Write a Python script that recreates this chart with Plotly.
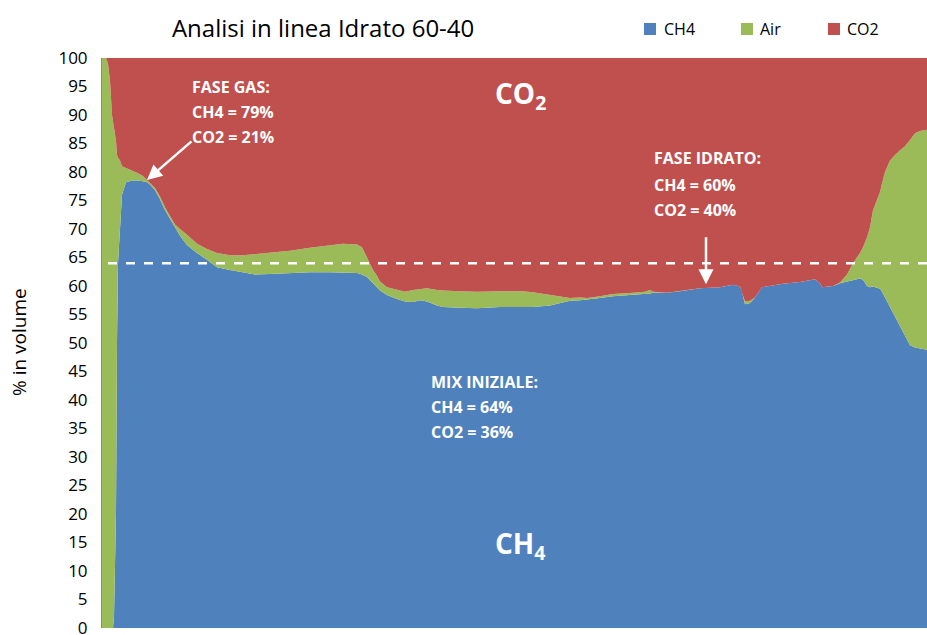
import plotly.graph_objects as go

# sample index (position along the run) -- no x labels in the original
sample = [0, 4, 6, 8, 10, 11, 12, 14, 15, 16, 18, 20, 24, 30, 36, 41, 44, 48, 53, 58, 63, 68, 73, 78,
          85, 95, 105, 115, 128, 141, 153, 168, 188, 208, 228, 241, 255, 260, 265, 271, 275, 278, 285,
          295, 303, 311, 318, 325, 335, 341, 358, 375, 398, 421, 431, 448, 458, 468, 478, 485, 498, 511,
          531, 543, 548, 551, 565, 578, 598, 618, 631, 638, 640, 643, 648, 653, 660, 681, 698, 713, 718,
          720, 731, 738, 745, 751, 758, 761, 765, 768, 771, 778, 780, 783, 788, 793, 798, 803, 808, 813,
          818, 825]

ch4 = [0, 0, 0, 0, 0, 0, 2, 20, 50, 64, 70, 76, 78.2, 78.5, 78.5, 78.4, 78.3, 77.8, 76.8, 75.2, 73.3,
       71.8, 70.2, 68.8, 67.2, 65.8, 64.6, 63.3, 62.8, 62.4, 62.0, 62.1, 62.3, 62.4, 62.4, 62.4, 62.3,
       62.0, 61.6, 60.5, 59.8, 59.2, 58.4, 57.7, 57.3, 57.2, 57.5, 57.3, 56.6, 56.3, 56.2, 56.1, 56.3,
       56.3, 56.3, 56.6, 57.0, 57.4, 57.5, 57.6, 57.9, 58.2, 58.4, 58.6, 58.7, 58.8, 58.8, 59.1, 59.6,
       59.8, 60.2, 59.9, 59.0, 56.8, 57.0, 58.0, 59.8, 60.4, 60.7, 61.2, 60.5, 59.8, 60.0, 60.5, 60.8,
       61.0, 61.3, 61.1, 60.0, 59.8, 59.9, 59.5, 59.0, 58.0, 56.3, 54.5, 52.8, 51.2, 49.6, 49.2, 49.0,
       48.8]

air = [100, 100, 99, 96, 90, 89, 86, 65.5, 33, 18.5, 12, 5, 2.5, 1.8, 1.3, 0.9, 0.5, 0.4, 0.4, 0.5,
       0.5, 0.5, 0.6, 1.2, 1.8, 1.6, 1.9, 2.5, 2.6, 3.0, 3.6, 3.7, 3.9, 4.3, 4.8, 5.0, 5.0, 4.8, 3.4,
       2.3, 2.0, 1.6, 1.4, 1.6, 1.7, 2.1, 1.9, 2.3, 2.7, 2.9, 2.9, 2.9, 2.8, 2.8, 2.6, 1.8, 1.1, 0.5,
       0.5, 0.3, 0.3, 0.4, 0.4, 0.4, 0.6, 0.2, 0, 0, 0, 0, 0, 0, 0, 0.5, 0.4, 0, 0, 0, 0, 0, 0, 0, 0,
       0.1, 1.2, 3.0, 4.5, 5.7, 8.5, 10.5, 13.4, 17.0, 19.0, 22.0, 25.7, 28.5, 31.0, 33.3, 36.0, 37.6,
       38.2, 38.6]

co2 = [0, 0, 1, 4, 10, 11, 12, 14.5, 17, 17.5, 18, 19, 19.3, 19.7, 20.2, 20.7, 21.2, 21.8, 22.8,
       24.3, 26.2, 27.7, 29.2, 30.0, 31.0, 32.6, 33.5, 34.2, 34.6, 34.6, 34.4, 34.2, 33.8, 33.3, 32.8,
       32.6, 32.7, 33.2, 35.0, 37.2, 38.2, 39.2, 40.2, 40.7, 41.0, 40.7, 40.6, 40.4, 40.7, 40.8, 40.9,
       41.0, 40.9, 40.9, 41.1, 41.6, 41.9, 42.1, 42.0, 42.1, 41.8, 41.4, 41.2, 41.0, 40.7, 41.0, 41.2,
       40.9, 40.4, 40.2, 39.8, 40.1, 41.0, 42.7, 42.6, 42.0, 40.2, 39.6, 39.3, 38.8, 39.5, 40.2, 40.0,
       39.4, 38.0, 36.0, 34.2, 33.2, 31.5, 29.7, 26.7, 23.5, 22.0, 20.0, 18.0, 17.0, 16.2, 15.5, 14.4,
       13.2, 12.8, 12.6]

series_names = ["CH4", "Air", "CO2"]
y_ticks = list(range(0, 101, 5))
initial_mix_ch4 = 64

gas_phase_text = ["FASE GAS:", "CH4 = 79%", "CO2 = 21%"]
hydrate_text = ["FASE IDRATO:", "CH4 = 60%", "CO2 = 40%"]
mix_text = ["MIX INIZIALE:", "CH4 = 64%", "CO2 = 36%"]

blue = "#4F81BD"
green = "#9BBB59"
red = "#C0504D"
colors = [blue, green, red]
font = "Open Sans, Noto Sans, sans-serif"

fig = go.Figure()
for name, vals, col in zip(series_names, [ch4, air, co2], colors):
    fig.add_trace(go.Scatter(x=sample, y=vals, name=name, mode="lines", stackgroup="one",
                             line=dict(width=0, color=col), fillcolor=col, hoverinfo="skip",
                             showlegend=False))

# dashed initial-mix reference line
fig.add_shape(type="line", xref="x", yref="y", x0=6, x1=825, y0=initial_mix_ch4, y1=initial_mix_ch4,
              line=dict(color="white", width=2.5, dash="dash"))

txt = dict(color="white", family=font, size=16)


def block(lines, x, ys):
    for line, yy in zip(lines, ys):
        fig.add_annotation(x=x, y=yy, xref="x", yref="y", xanchor="left", yanchor="middle",
                           showarrow=False, text="<b>" + line + "</b>", font=txt)


block(gas_phase_text, 88, [94.9, 90.5, 86.1])
block(hydrate_text, 550, [82.5, 77.8, 73.4])
block(mix_text, 327, [43.2, 38.8, 34.4])

fig.add_annotation(x=418, y=93.5, xref="x", yref="y", showarrow=False,
                   text="<b>CO<sub>2</sub></b>", font=dict(color="white", family=font, size=28))
fig.add_annotation(x=418, y=14.5, xref="x", yref="y", showarrow=False,
                   text="<b>CH<sub>4</sub></b>", font=dict(color="white", family=font, size=28))
# arrows
fig.add_annotation(x=45, y=78.6, ax=91, ay=85.6, xref="x", yref="y", axref="x", ayref="y",
                   showarrow=True, arrowhead=2, arrowsize=1.2, arrowwidth=2.5, arrowcolor="white", text="")
fig.add_annotation(x=604, y=60.3, ax=604, ay=68.8, xref="x", yref="y", axref="x", ayref="y",
                   showarrow=True, arrowhead=2, arrowsize=1.2, arrowwidth=2.5, arrowcolor="white", text="")

# legend (drawn as squares + labels, in paper coords)
W, H, L = 825.0, 570.0, 102.0
legend_sq_x = [644, 741, 828]
legend_txt_x = [662, 758, 845]
for name, col, sx, tx in zip(series_names, colors, legend_sq_x, legend_txt_x):
    fig.add_shape(type="rect", xref="paper", yref="paper",
                  x0=(sx - L) / W, x1=(sx + 12 - L) / W,
                  y0=(628 - 35) / H, y1=(628 - 23) / H,
                  fillcolor=col, line=dict(width=0))
    fig.add_annotation(xref="paper", yref="paper", x=(tx - L) / W, y=(628 - 29.5) / H,
                       xanchor="left", yanchor="middle", showarrow=False, text=name,
                       font=dict(family=font, size=16, color="black"))

# y-axis title (rotated), placed like the original
fig.add_annotation(xref="paper", yref="paper", x=(19 - L) / W, y=(628 - 342) / H,
                   xanchor="center", yanchor="middle", showarrow=False, textangle=-90,
                   text="% in volume", font=dict(family=font, size=19, color="black"))

fig.update_layout(
    width=927, height=635,
    margin=dict(l=102, r=0, t=58, b=7, autoexpand=False),
    paper_bgcolor="white", plot_bgcolor="white",
    showlegend=False,
    title=dict(text="Analisi in linea Idrato 60-40", xref="paper", x=0.268, xanchor="center",
               yref="container", y=1 - 29.0 / 635, yanchor="middle",
               font=dict(family=font, size=24, color="black")),
    font=dict(family=font),
)
fig.update_xaxes(range=[0, 825], showticklabels=False, showgrid=False, zeroline=False, ticks="",
                 showline=False)
fig.update_yaxes(range=[0, 100], tickvals=y_ticks, showgrid=False, zeroline=False,
                 showline=True, linecolor="#888888", linewidth=1, ticks="",
                 tickfont=dict(family=font, size=17, color="black"), ticklabelstandoff=10,
                 ticklabeloverflow="allow")

fig.write_html("out.html", config={"displayModeBar": False},
               post_script="document.body.style.margin='0';document.body.style.overflow='hidden';")
